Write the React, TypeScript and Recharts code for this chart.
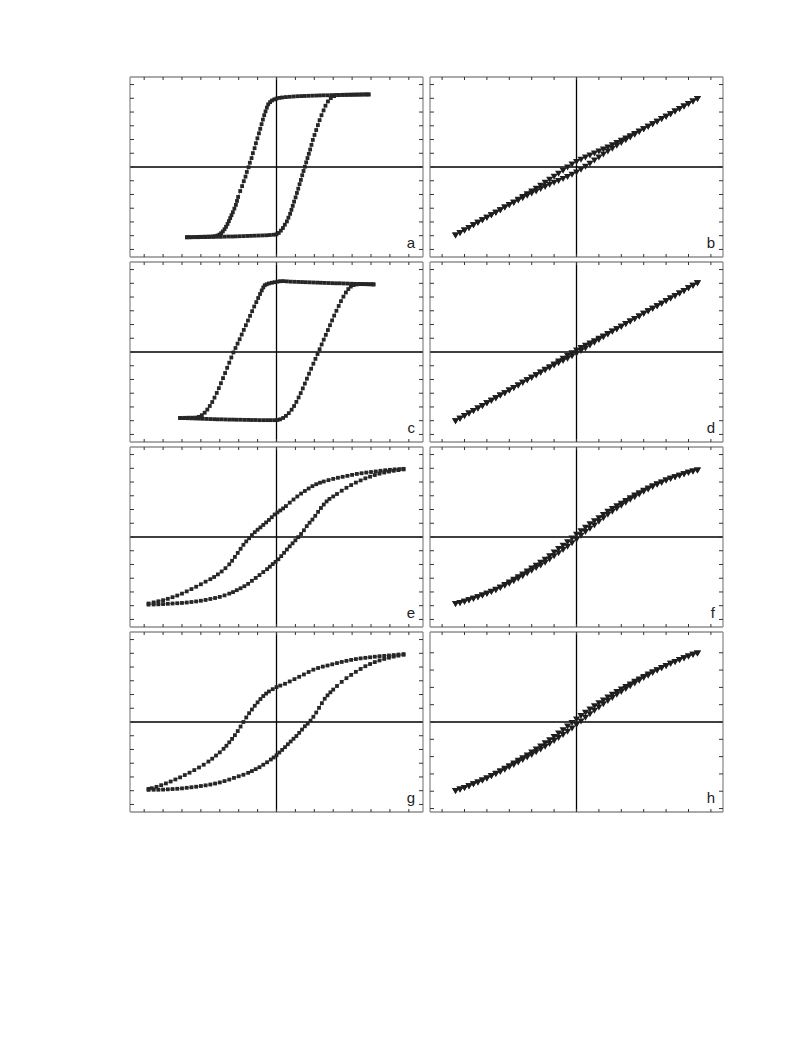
import React from 'react';
import { ScatterChart, Scatter, XAxis, YAxis, ReferenceLine } from 'recharts';

// ---------- tick labels / axis ticks ----------
const leftXTicks = [-7, -6, -5, -4, -3, -2, -1, 0, 1, 2, 3, 4, 5, 6, 7];
const rightXTicks = [-6, -5, -4, -3, -2, -1, 0, 1, 2, 3, 4, 5, 6];
const yTicksStd = [-6, -5, -4, -3, -2, -1, 0, 1, 2, 3, 4, 5, 6];
const yTicksH = [-5, -4, -3, -2, -1, 0, 1, 2, 3, 4];
const panelLabels = ['a', 'b', 'c', 'd', 'e', 'f', 'g', 'h'];

// ---------- left column loops: [field, magnetisation] ----------
const aDown: [number, number][] = [[4.87,5.28],[4.7,5.28],[4.5,5.27],[4.3,5.27],[4.1,5.26],[3.9,5.26],[3.7,5.25],[3.5,5.25],[3.3,5.24],[3.1,5.24],[2.9,5.23],[2.7,5.22],[2.5,5.22],[2.3,5.21],[2.1,5.2],[1.9,5.19],[1.7,5.18],[1.5,5.17],[1.3,5.16],[1.1,5.15],[0.9,5.13],[0.7,5.11],[0.5,5.09],[0.3,5.06],[0.15,5.03],[0.0,4.98],[-0.12,4.92],[-0.24,4.84],[-0.34,4.72],[-0.44,4.56],[-0.51,4.32],[-0.58,4.05],[-0.65,3.77],[-0.72,3.45],[-0.79,3.12],[-0.86,2.78],[-0.93,2.45],[-1.01,2.09],[-1.09,1.73],[-1.16,1.37],[-1.25,1.01],[-1.32,0.65],[-1.41,0.31],[-1.48,-0.02],[-1.57,-0.36],[-1.64,-0.7],[-1.73,-1.03],[-1.82,-1.39],[-1.92,-1.75],[-2.03,-2.18],[-2.09,-2.47],[-2.15,-2.76],[-2.23,-3.03],[-2.31,-3.29],[-2.38,-3.51],[-2.45,-3.72],[-2.52,-3.94],[-2.59,-4.15],[-2.67,-4.35],[-2.75,-4.53],[-2.84,-4.69],[-2.93,-4.82],[-3.02,-4.92],[-3.12,-4.99],[-3.25,-5.03],[-3.4,-5.05],[-3.6,-5.06],[-3.8,-5.07],[-4.0,-5.08],[-4.2,-5.09],[-4.4,-5.1],[-4.6,-5.1],[-4.74,-5.11]];
const aUp: [number, number][] = [[-4.74,-5.12],[-4.55,-5.12],[-4.35,-5.11],[-4.15,-5.11],[-3.95,-5.1],[-3.75,-5.1],[-3.55,-5.09],[-3.35,-5.09],[-3.15,-5.08],[-2.95,-5.08],[-2.75,-5.07],[-2.55,-5.06],[-2.35,-5.06],[-2.15,-5.05],[-1.95,-5.04],[-1.75,-5.03],[-1.55,-5.02],[-1.35,-5.01],[-1.15,-5.0],[-0.95,-4.99],[-0.75,-4.98],[-0.55,-4.97],[-0.35,-4.95],[-0.15,-4.93],[0.0,-4.9],[0.12,-4.8],[0.23,-4.63],[0.34,-4.44],[0.44,-4.2],[0.55,-3.96],[0.63,-3.69],[0.72,-3.41],[0.79,-3.12],[0.86,-2.83],[0.93,-2.52],[1.01,-2.21],[1.08,-1.89],[1.15,-1.58],[1.22,-1.25],[1.29,-0.94],[1.36,-0.6],[1.43,-0.29],[1.5,0.02],[1.57,0.34],[1.64,0.65],[1.71,0.96],[1.78,1.27],[1.85,1.61],[1.92,1.97],[2.01,2.33],[2.1,2.69],[2.19,3.05],[2.28,3.41],[2.38,3.77],[2.49,4.12],[2.59,4.46],[2.72,4.77],[2.87,5.01],[3.05,5.16],[3.28,5.23],[3.5,5.25],[3.7,5.26],[3.9,5.26],[4.1,5.27],[4.3,5.27],[4.5,5.28],[4.7,5.28],[4.87,5.28]];

const cDown: [number, number][] = [[5.13,4.92],[4.95,4.93],[4.75,4.94],[4.55,4.94],[4.35,4.95],[4.15,4.96],[3.95,4.97],[3.75,4.98],[3.55,4.99],[3.35,5.0],[3.15,5.0],[2.95,5.01],[2.75,5.02],[2.55,5.03],[2.35,5.04],[2.15,5.05],[1.95,5.06],[1.75,5.07],[1.55,5.08],[1.35,5.09],[1.15,5.1],[0.95,5.11],[0.75,5.12],[0.55,5.14],[0.35,5.16],[0.19,5.15],[0.05,5.12],[-0.1,5.08],[-0.25,5.04],[-0.4,4.99],[-0.52,4.93],[-0.62,4.86],[-0.7,4.7],[-0.78,4.48],[-0.87,4.22],[-0.97,3.93],[-1.07,3.63],[-1.18,3.31],[-1.29,2.97],[-1.4,2.63],[-1.51,2.29],[-1.62,1.95],[-1.73,1.61],[-1.84,1.27],[-1.95,0.93],[-2.06,0.61],[-2.17,0.29],[-2.28,-0.03],[-2.39,-0.4],[-2.5,-0.78],[-2.61,-1.15],[-2.72,-1.53],[-2.83,-1.9],[-2.94,-2.27],[-3.05,-2.63],[-3.16,-2.98],[-3.28,-3.32],[-3.4,-3.64],[-3.53,-3.93],[-3.66,-4.19],[-3.8,-4.42],[-3.95,-4.6],[-4.1,-4.72],[-4.25,-4.77],[-4.45,-4.78],[-4.65,-4.78],[-4.85,-4.79],[-5.1,-4.8]];
const cUp: [number, number][] = [[-5.1,-4.8],[-4.9,-4.81],[-4.7,-4.82],[-4.5,-4.83],[-4.3,-4.84],[-4.1,-4.85],[-3.9,-4.86],[-3.7,-4.87],[-3.5,-4.88],[-3.3,-4.89],[-3.1,-4.9],[-2.9,-4.9],[-2.7,-4.91],[-2.5,-4.92],[-2.3,-4.92],[-2.1,-4.93],[-1.9,-4.93],[-1.7,-4.94],[-1.5,-4.94],[-1.3,-4.95],[-1.1,-4.95],[-0.9,-4.96],[-0.7,-4.96],[-0.5,-4.96],[-0.3,-4.96],[-0.1,-4.96],[0.05,-4.95],[0.19,-4.9],[0.35,-4.8],[0.5,-4.65],[0.65,-4.45],[0.8,-4.2],[0.93,-3.93],[1.05,-3.63],[1.17,-3.31],[1.28,-2.99],[1.39,-2.65],[1.5,-2.3],[1.61,-1.94],[1.72,-1.58],[1.83,-1.22],[1.95,-0.85],[2.06,-0.5],[2.17,-0.15],[2.28,0.2],[2.39,0.55],[2.5,0.9],[2.61,1.25],[2.72,1.6],[2.83,1.95],[2.94,2.3],[3.05,2.65],[3.17,3.0],[3.29,3.35],[3.41,3.7],[3.54,4.03],[3.67,4.33],[3.8,4.58],[3.93,4.76],[4.08,4.87],[4.25,4.92],[4.42,4.94],[4.6,4.94],[4.8,4.93],[5.0,4.93],[5.13,4.92]];

const eDown: [number, number][] = [[6.72,4.96],[6.5,4.94],[6.25,4.92],[6.0,4.89],[5.75,4.86],[5.5,4.82],[5.25,4.77],[5.0,4.73],[4.75,4.69],[4.5,4.64],[4.25,4.59],[4.0,4.52],[3.75,4.45],[3.5,4.38],[3.25,4.31],[3.0,4.23],[2.75,4.14],[2.5,4.04],[2.3,3.95],[2.1,3.84],[1.9,3.7],[1.7,3.53],[1.5,3.35],[1.3,3.16],[1.1,2.95],[0.9,2.73],[0.7,2.5],[0.5,2.25],[0.35,2.08],[0.2,1.93],[0.05,1.79],[-0.1,1.64],[-0.25,1.44],[-0.4,1.24],[-0.55,1.06],[-0.7,0.88],[-0.85,0.7],[-1.0,0.53],[-1.15,0.35],[-1.3,0.14],[-1.45,-0.09],[-1.6,-0.32],[-1.75,-0.57],[-1.9,-0.86],[-2.05,-1.16],[-2.2,-1.45],[-2.35,-1.73],[-2.5,-1.99],[-2.7,-2.27],[-2.9,-2.51],[-3.1,-2.72],[-3.3,-2.91],[-3.5,-3.07],[-3.75,-3.25],[-4.0,-3.44],[-4.25,-3.62],[-4.5,-3.79],[-4.75,-3.96],[-5.0,-4.12],[-5.25,-4.26],[-5.5,-4.38],[-5.75,-4.5],[-6.0,-4.6],[-6.25,-4.68],[-6.5,-4.76],[-6.77,-4.84]];
const eUp: [number, number][] = [[-6.77,-4.92],[-6.5,-4.91],[-6.25,-4.9],[-6.0,-4.88],[-5.75,-4.86],[-5.5,-4.84],[-5.25,-4.82],[-5.0,-4.8],[-4.75,-4.77],[-4.5,-4.73],[-4.25,-4.69],[-4.0,-4.64],[-3.75,-4.58],[-3.5,-4.51],[-3.25,-4.44],[-3.0,-4.36],[-2.75,-4.25],[-2.5,-4.12],[-2.3,-4.01],[-2.1,-3.87],[-1.9,-3.73],[-1.7,-3.58],[-1.5,-3.41],[-1.3,-3.19],[-1.1,-2.98],[-0.9,-2.77],[-0.7,-2.55],[-0.5,-2.34],[-0.35,-2.16],[-0.2,-1.97],[-0.05,-1.81],[0.1,-1.62],[0.25,-1.39],[0.4,-1.15],[0.55,-0.91],[0.7,-0.68],[0.85,-0.46],[1.0,-0.24],[1.15,-0.01],[1.3,0.22],[1.45,0.49],[1.6,0.79],[1.75,1.04],[1.9,1.27],[2.05,1.54],[2.2,1.83],[2.35,2.11],[2.5,2.36],[2.65,2.59],[2.8,2.77],[3.0,2.95],[3.2,3.13],[3.45,3.37],[3.7,3.58],[3.95,3.78],[4.2,3.96],[4.45,4.12],[4.7,4.27],[4.95,4.39],[5.2,4.51],[5.45,4.61],[5.7,4.69],[5.95,4.76],[6.2,4.82],[6.45,4.87],[6.72,4.92]];

const gDown: [number, number][] = [[6.72,4.94],[6.45,4.91],[6.2,4.87],[5.95,4.84],[5.7,4.81],[5.45,4.79],[5.2,4.75],[4.95,4.71],[4.7,4.67],[4.45,4.63],[4.2,4.58],[3.95,4.52],[3.7,4.45],[3.45,4.37],[3.2,4.29],[2.95,4.2],[2.7,4.11],[2.45,4.03],[2.2,3.93],[1.95,3.81],[1.7,3.64],[1.45,3.46],[1.2,3.29],[0.95,3.12],[0.7,2.95],[0.45,2.78],[0.2,2.65],[0.0,2.54],[-0.2,2.39],[-0.4,2.22],[-0.55,2.07],[-0.7,1.89],[-0.85,1.67],[-1.0,1.43],[-1.15,1.18],[-1.3,0.91],[-1.45,0.64],[-1.6,0.33],[-1.75,0.0],[-1.9,-0.33],[-2.05,-0.66],[-2.2,-0.96],[-2.35,-1.23],[-2.5,-1.48],[-2.65,-1.73],[-2.8,-1.95],[-3.0,-2.21],[-3.2,-2.44],[-3.4,-2.67],[-3.6,-2.88],[-3.85,-3.11],[-4.1,-3.31],[-4.35,-3.5],[-4.6,-3.69],[-4.85,-3.86],[-5.1,-4.03],[-5.35,-4.18],[-5.6,-4.33],[-5.85,-4.47],[-6.1,-4.6],[-6.35,-4.72],[-6.6,-4.82],[-6.77,-4.87]];
const gUp: [number, number][] = [[-6.77,-4.94],[-6.5,-4.93],[-6.25,-4.93],[-6.0,-4.92],[-5.75,-4.9],[-5.5,-4.88],[-5.25,-4.86],[-5.0,-4.83],[-4.75,-4.79],[-4.5,-4.75],[-4.25,-4.71],[-4.0,-4.66],[-3.75,-4.61],[-3.5,-4.55],[-3.25,-4.48],[-3.0,-4.4],[-2.75,-4.3],[-2.5,-4.19],[-2.25,-4.07],[-2.0,-3.95],[-1.75,-3.84],[-1.5,-3.7],[-1.3,-3.57],[-1.1,-3.43],[-0.9,-3.29],[-0.7,-3.11],[-0.5,-2.93],[-0.3,-2.73],[-0.15,-2.58],[0.0,-2.42],[0.15,-2.22],[0.3,-2.03],[0.45,-1.83],[0.6,-1.62],[0.75,-1.42],[0.9,-1.22],[1.05,-1.02],[1.2,-0.79],[1.35,-0.55],[1.5,-0.31],[1.65,-0.12],[1.8,0.1],[1.95,0.38],[2.1,0.69],[2.25,1.03],[2.4,1.37],[2.55,1.69],[2.7,1.94],[2.85,2.16],[3.0,2.36],[3.2,2.62],[3.45,2.92],[3.7,3.19],[3.95,3.43],[4.2,3.65],[4.45,3.86],[4.7,4.06],[4.95,4.22],[5.2,4.36],[5.45,4.48],[5.7,4.59],[5.95,4.68],[6.2,4.76],[6.45,4.83],[6.72,4.89]];

// ---------- right column loops: shared field sweep ----------
const fieldDown = [5.4,5.2,5.0,4.8,4.6,4.4,4.2,4.0,3.8,3.6,3.4,3.2,3.0,2.8,2.6,2.4,2.2,2.0,1.8,1.6,1.4,1.2,1.0,0.8,0.6,0.4,0.2,0,-0.2,-0.4,-0.6,-0.8,-1.0,-1.2,-1.4,-1.6,-1.8,-2.0,-2.2,-2.4,-2.6,-2.8,-3.0,-3.2,-3.4,-3.6,-3.8,-4.0,-4.2,-4.4,-4.6,-4.8,-5.0,-5.2,-5.4];
const fieldUp = [-5.4,-5.2,-5.0,-4.8,-4.6,-4.4,-4.2,-4.0,-3.8,-3.6,-3.4,-3.2,-3.0,-2.8,-2.6,-2.4,-2.2,-2.0,-1.8,-1.6,-1.4,-1.2,-1.0,-0.8,-0.6,-0.4,-0.2,0,0.2,0.4,0.6,0.8,1.0,1.2,1.4,1.6,1.8,2.0,2.2,2.4,2.6,2.8,3.0,3.2,3.4,3.6,3.8,4.0,4.2,4.4,4.6,4.8,5.0,5.2,5.4];

const bDownM = [4.97,4.78,4.60,4.42,4.23,4.05,3.86,3.68,3.50,3.31,3.13,2.94,2.76,2.60,2.42,2.26,2.08,1.92,1.76,1.59,1.44,1.28,1.14,1.00,0.85,0.71,0.55,0.38,0.19,-0.03,-0.25,-0.48,-0.70,-0.92,-1.14,-1.35,-1.56,-1.76,-1.96,-2.16,-2.36,-2.56,-2.76,-2.94,-3.13,-3.31,-3.50,-3.68,-3.86,-4.05,-4.23,-4.42,-4.60,-4.78,-4.97];
const bUpM = [-4.97,-4.78,-4.60,-4.42,-4.23,-4.05,-3.86,-3.68,-3.50,-3.31,-3.13,-2.94,-2.76,-2.60,-2.42,-2.26,-2.08,-1.92,-1.76,-1.59,-1.44,-1.28,-1.14,-1.00,-0.85,-0.71,-0.55,-0.38,-0.19,0.03,0.25,0.48,0.70,0.92,1.14,1.35,1.56,1.76,1.96,2.16,2.36,2.56,2.76,2.94,3.13,3.31,3.50,3.68,3.86,4.05,4.23,4.42,4.60,4.78,4.97];

const dDownM = [5.02,4.84,4.65,4.46,4.28,4.09,3.91,3.72,3.53,3.35,3.16,2.98,2.79,2.60,2.42,2.23,2.05,1.86,1.67,1.50,1.32,1.15,0.97,0.80,0.64,0.47,0.30,0.12,-0.08,-0.27,-0.48,-0.68,-0.89,-1.09,-1.28,-1.48,-1.67,-1.86,-2.05,-2.23,-2.42,-2.60,-2.79,-2.98,-3.16,-3.35,-3.53,-3.72,-3.91,-4.09,-4.28,-4.46,-4.65,-4.84,-5.02];
const dUpM = [-5.02,-4.84,-4.65,-4.46,-4.28,-4.09,-3.91,-3.72,-3.53,-3.35,-3.16,-2.98,-2.79,-2.60,-2.42,-2.23,-2.05,-1.86,-1.67,-1.50,-1.32,-1.15,-0.97,-0.80,-0.64,-0.47,-0.30,-0.12,0.08,0.27,0.48,0.68,0.89,1.09,1.28,1.48,1.67,1.86,2.05,2.23,2.42,2.60,2.79,2.98,3.16,3.35,3.53,3.72,3.91,4.09,4.28,4.46,4.65,4.84,5.02];

const fDownM = [4.86,4.78,4.69,4.59,4.48,4.37,4.25,4.12,3.99,3.86,3.70,3.54,3.38,3.20,3.03,2.84,2.64,2.44,2.25,2.06,1.86,1.62,1.38,1.16,0.94,0.69,0.44,0.18,-0.10,-0.37,-0.62,-0.86,-1.12,-1.38,-1.64,-1.86,-2.07,-2.28,-2.50,-2.72,-2.91,-3.10,-3.30,-3.48,-3.66,-3.82,-3.97,-4.12,-4.25,-4.37,-4.48,-4.59,-4.69,-4.78,-4.86];
const fUpM = [-4.86,-4.78,-4.69,-4.59,-4.48,-4.37,-4.25,-4.12,-3.99,-3.86,-3.70,-3.54,-3.38,-3.20,-3.03,-2.84,-2.64,-2.44,-2.25,-2.06,-1.86,-1.62,-1.38,-1.16,-0.94,-0.69,-0.44,-0.18,0.10,0.37,0.62,0.86,1.12,1.38,1.64,1.86,2.07,2.28,2.50,2.72,2.91,3.10,3.30,3.48,3.66,3.82,3.97,4.12,4.25,4.37,4.48,4.59,4.69,4.78,4.86];

const hDownM = [3.97,3.89,3.80,3.70,3.59,3.48,3.37,3.25,3.13,3.00,2.88,2.75,2.61,2.47,2.33,2.18,2.04,1.89,1.74,1.58,1.42,1.26,1.09,0.92,0.74,0.55,0.36,0.16,-0.04,-0.25,-0.46,-0.66,-0.85,-1.04,-1.22,-1.40,-1.58,-1.75,-1.92,-2.08,-2.23,-2.39,-2.55,-2.69,-2.84,-2.98,-3.11,-3.25,-3.37,-3.48,-3.59,-3.70,-3.80,-3.89,-3.97];
const hUpM = [-3.97,-3.89,-3.80,-3.70,-3.59,-3.48,-3.37,-3.25,-3.13,-3.00,-2.88,-2.75,-2.61,-2.47,-2.33,-2.18,-2.04,-1.89,-1.74,-1.58,-1.42,-1.26,-1.09,-0.92,-0.74,-0.55,-0.36,-0.16,0.04,0.25,0.46,0.66,0.85,1.04,1.22,1.40,1.58,1.75,1.92,2.08,2.23,2.39,2.55,2.69,2.84,2.98,3.11,3.25,3.37,3.48,3.59,3.70,3.80,3.89,3.97];

// ---------- helpers ----------
type Pt = { x: number; y: number };
const fromPairs = (p: [number, number][]): Pt[] => p.map(([x, y]) => ({ x, y }));
const fromCols = (xs: number[], ys: number[]): Pt[] => xs.map((x, i) => ({ x, y: ys[i] }));

const PW = 293;
const PH = 180;
const M = 4;
const FRAME = '#8e8e8e';
const TICK = '#333333';

const SquareMark = (p: any) => {
  if (p.cx == null || p.cy == null) return <g />;
  return <rect x={p.cx - 1.9} y={p.cy - 1.9} width={3.8} height={3.8} fill="#262626" />;
};
const TriMark = (p: any) => {
  if (p.cx == null || p.cy == null) return <g />;
  const { cx, cy } = p;
  return <path d={`M${cx - 3.5},${cy - 2.8}L${cx + 3.5},${cy - 2.8}L${cx},${cy + 3.2}Z`} fill="#1e1e1e" />;
};
const NoLabel = () => <g />;

interface PanelProps {
  left: number;
  top: number;
  xDomain: [number, number];
  xTicks: number[];
  yDomain: [number, number];
  yTicks: number[];
  series: Pt[][];
  marker: 'square' | 'tri';
  label: string;
}

function Panel({ left, top, xDomain, xTicks, yDomain, yTicks, series, marker, label }: PanelProps) {
  const axisLine = { stroke: FRAME, strokeWidth: 1.3 };
  const tickLine = { stroke: TICK, strokeWidth: 1 };
  return (
    <div style={{ position: 'absolute', left: left - M, top: top - M, width: PW + 2 * M, height: PH + 2 * M }}>
      <ScatterChart width={PW + 2 * M} height={PH + 2 * M} margin={{ top: M, right: M, bottom: M, left: M }}>
        <XAxis xAxisId="b" type="number" dataKey="x" orientation="bottom" domain={xDomain} ticks={xTicks}
          allowDataOverflow mirror height={1} tick={NoLabel} tickLine={tickLine} tickSize={3} interval={0} axisLine={axisLine} />
        <XAxis xAxisId="t" type="number" dataKey="x" orientation="top" domain={xDomain} ticks={xTicks}
          allowDataOverflow mirror height={1} tick={NoLabel} tickLine={tickLine} tickSize={3} interval={0} axisLine={axisLine} />
        <YAxis yAxisId="l" type="number" dataKey="y" orientation="left" domain={yDomain} ticks={yTicks}
          allowDataOverflow mirror width={1} tick={NoLabel} tickLine={tickLine} tickSize={4} interval={0} axisLine={axisLine} />
        <YAxis yAxisId="r" type="number" dataKey="y" orientation="right" domain={yDomain} ticks={yTicks}
          allowDataOverflow mirror width={1} tick={NoLabel} tickLine={tickLine} tickSize={4} interval={0} axisLine={axisLine} />
        <ReferenceLine xAxisId="b" yAxisId="l" x={0} stroke="#000" strokeWidth={1.3} />
        <ReferenceLine xAxisId="b" yAxisId="l" y={0} stroke="#000" strokeWidth={1.3} />
        {series.map((s, i) => (
          <Scatter key={i} xAxisId="b" yAxisId="l" data={s} isAnimationActive={false}
            line={{ stroke: '#5a5a5a', strokeWidth: 0.7 }} lineType="joint"
            shape={marker === 'square' ? SquareMark : TriMark} />
        ))}
      </ScatterChart>
      <div style={{
        position: 'absolute', left: M + PW - 8 - 24, width: 24, top: M + PH - 22, textAlign: 'right',
        fontFamily: '"Liberation Sans", Arial, sans-serif', fontSize: 15, lineHeight: '15px', color: '#222',
      }}>{label}</div>
    </div>
  );
}

const LEFT_X: [number, number] = [-7.75, 7.75];
const RIGHT_X: [number, number] = [-6.54, 6.54];
const STD_Y: [number, number] = [-6.55, 6.55];
const H_Y: [number, number] = [-5.2, 5.2];
const colLeft = [130, 430];
const rowTop = [77, 262, 447, 632];

export default function App() {
  const panels: PanelProps[] = [
    { left: colLeft[0], top: rowTop[0], xDomain: LEFT_X, xTicks: leftXTicks, yDomain: STD_Y, yTicks: yTicksStd, series: [fromPairs(aDown), fromPairs(aUp)], marker: 'square', label: panelLabels[0] },
    { left: colLeft[1], top: rowTop[0], xDomain: RIGHT_X, xTicks: rightXTicks, yDomain: STD_Y, yTicks: yTicksStd, series: [fromCols(fieldDown, bDownM), fromCols(fieldUp, bUpM)], marker: 'tri', label: panelLabels[1] },
    { left: colLeft[0], top: rowTop[1], xDomain: LEFT_X, xTicks: leftXTicks, yDomain: STD_Y, yTicks: yTicksStd, series: [fromPairs(cDown), fromPairs(cUp)], marker: 'square', label: panelLabels[2] },
    { left: colLeft[1], top: rowTop[1], xDomain: RIGHT_X, xTicks: rightXTicks, yDomain: STD_Y, yTicks: yTicksStd, series: [fromCols(fieldDown, dDownM), fromCols(fieldUp, dUpM)], marker: 'tri', label: panelLabels[3] },
    { left: colLeft[0], top: rowTop[2], xDomain: LEFT_X, xTicks: leftXTicks, yDomain: STD_Y, yTicks: yTicksStd, series: [fromPairs(eDown), fromPairs(eUp)], marker: 'square', label: panelLabels[4] },
    { left: colLeft[1], top: rowTop[2], xDomain: RIGHT_X, xTicks: rightXTicks, yDomain: STD_Y, yTicks: yTicksStd, series: [fromCols(fieldDown, fDownM), fromCols(fieldUp, fUpM)], marker: 'tri', label: panelLabels[5] },
    { left: colLeft[0], top: rowTop[3], xDomain: LEFT_X, xTicks: leftXTicks, yDomain: STD_Y, yTicks: yTicksStd, series: [fromPairs(gDown), fromPairs(gUp)], marker: 'square', label: panelLabels[6] },
    { left: colLeft[1], top: rowTop[3], xDomain: RIGHT_X, xTicks: rightXTicks, yDomain: H_Y, yTicks: yTicksH, series: [fromCols(fieldDown, hDownM), fromCols(fieldUp, hUpM)], marker: 'tri', label: panelLabels[7] },
  ];
  return (
    <div style={{ position: 'absolute', left: 0, top: 0, width: 793, height: 1057, background: '#fff' }}>
      {panels.map((p, i) => <Panel key={i} {...p} />)}
    </div>
  );
}
